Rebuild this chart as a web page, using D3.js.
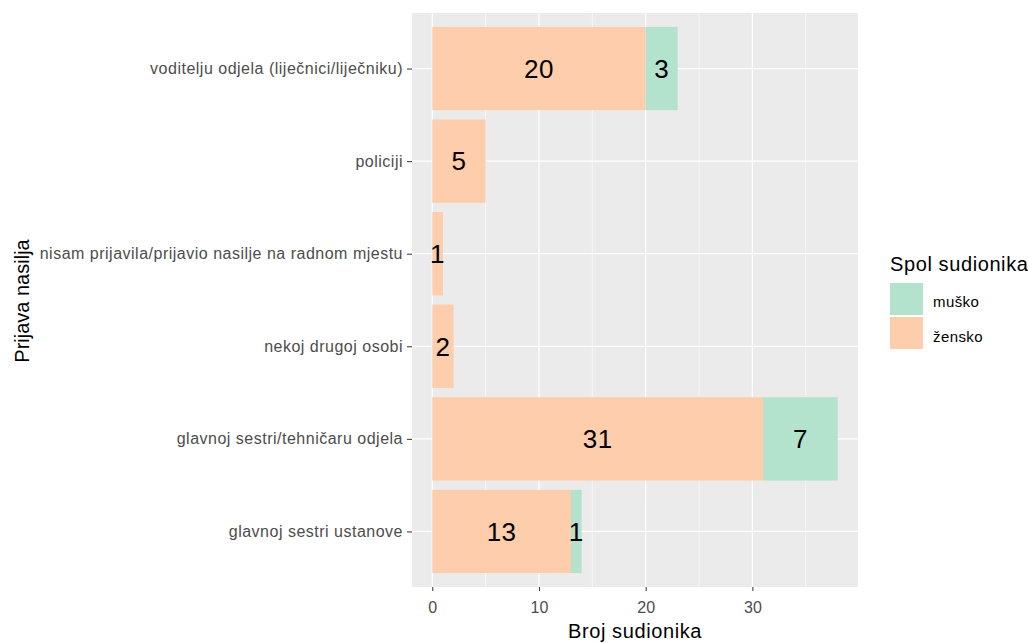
<!DOCTYPE html>
<html><head><meta charset="utf-8">
<script src="https://cdn.jsdelivr.net/npm/d3@7"></script>
<style>body{margin:0;background:#fff;} text{font-family:"Liberation Sans",Arial,sans-serif;}</style>
</head><body><svg id="c" width="1028" height="643"></svg>
<script>
const categories = ["voditelju odjela (liječnici/liječniku)","policiji","nisam prijavila/prijavio nasilje na radnom mjestu","nekoj drugoj osobi","glavnoj sestri/tehničaru odjela","glavnoj sestri ustanove"];
const zensko = [20,5,1,2,31,13];
const musko = [3,0,0,0,7,1];
const seriesNames = ["muško","žensko"];
const colors = {"muško":"#B3E2CD","žensko":"#FDCDAC"};
const xTicks = [0,10,20,30];
const minorTicks = [5,15,25,35];

const svg = d3.select("#c");
const L=412, R=858, T=13, B=587;
const maxTot = d3.max(categories.map((c,i)=>zensko[i]+musko[i]));
const pad = maxTot*0.05;
const x = d3.scaleLinear().domain([-pad, maxTot+pad]).range([L,R]);
const y = d3.scalePoint().domain(categories).range([T,B]).padding(0.6);
const step = y.step();
const bw = step*0.9;
const FF = "'Liberation Sans',Arial,sans-serif";

svg.append("rect").attr("x",L).attr("y",T).attr("width",R-L).attr("height",B-T).attr("fill","#EBEBEB");
svg.selectAll(".mg").data(minorTicks).enter().append("line").attr("x1",d=>x(d)).attr("x2",d=>x(d)).attr("y1",T).attr("y2",B).attr("stroke","#fff").attr("stroke-width",0.6);
svg.selectAll(".Mg").data(xTicks).enter().append("line").attr("x1",d=>x(d)).attr("x2",d=>x(d)).attr("y1",T).attr("y2",B).attr("stroke","#fff").attr("stroke-width",1.2);
svg.selectAll(".hg").data(categories).enter().append("line").attr("x1",L).attr("x2",R).attr("y1",d=>y(d)).attr("y2",d=>y(d)).attr("stroke","#fff").attr("stroke-width",1.2);

const segs=[];
categories.forEach((c,i)=>{
  segs.push({c, s:"žensko", x0:0, x1:zensko[i], v:zensko[i]});
  segs.push({c, s:"muško", x0:zensko[i], x1:zensko[i]+musko[i], v:musko[i]});
});
const vis = segs.filter(d=>d.v>0);
svg.selectAll(".bar").data(vis).enter().append("rect")
  .attr("x",d=>x(d.x0)).attr("width",d=>x(d.x1)-x(d.x0))
  .attr("y",d=>y(d.c)-bw/2).attr("height",bw).attr("fill",d=>colors[d.s]);
svg.selectAll(".lbl").data(vis).enter().append("text")
  .attr("x",d=>x((d.x0+d.x1)/2)).attr("y",d=>y(d.c)).attr("dy","0.36em")
  .attr("text-anchor","middle").attr("font-size",26).attr("letter-spacing",0.5).attr("fill","#000").text(d=>d.v);

const xa = svg.append("g").attr("transform",`translate(0,${B})`)
  .call(d3.axisBottom(x).tickValues(xTicks).tickSize(4).tickPadding(11));
xa.select(".domain").remove();
xa.selectAll("line").attr("stroke","#333");
xa.selectAll("text").attr("font-size",16).attr("fill","#4D4D4D").style("font-family",FF);
const ya = svg.append("g").attr("transform",`translate(${L},0)`)
  .call(d3.axisLeft(y).tickSize(5).tickPadding(4));
ya.select(".domain").remove();
ya.selectAll("line").attr("stroke","#333");
ya.selectAll("text").attr("font-size",16).attr("letter-spacing",0.5).attr("fill","#4D4D4D").style("font-family",FF);

svg.append("text").attr("x",(L+R)/2).attr("y",638).attr("text-anchor","middle").attr("font-size",20).attr("letter-spacing",0.6).attr("fill","#000").text("Broj sudionika");
svg.append("text").attr("transform",`translate(29,${(T+B)/2+1}) rotate(-90)`).attr("text-anchor","middle").attr("font-size",20).attr("fill","#000").text("Prijava nasilja");

const lg = svg.append("g");
lg.append("text").attr("x",890).attr("y",271).attr("font-size",20).attr("letter-spacing",0.6).attr("fill","#000").text("Spol sudionika");
seriesNames.forEach((s,i)=>{
  lg.append("rect").attr("x",890).attr("y",283+i*34).attr("width",33).attr("height",32).attr("fill",colors[s]);
  lg.append("text").attr("x",933).attr("y",307+i*35).attr("font-size",15).attr("letter-spacing",0.4).attr("fill","#000").text(s);
});
</script></body></html>
